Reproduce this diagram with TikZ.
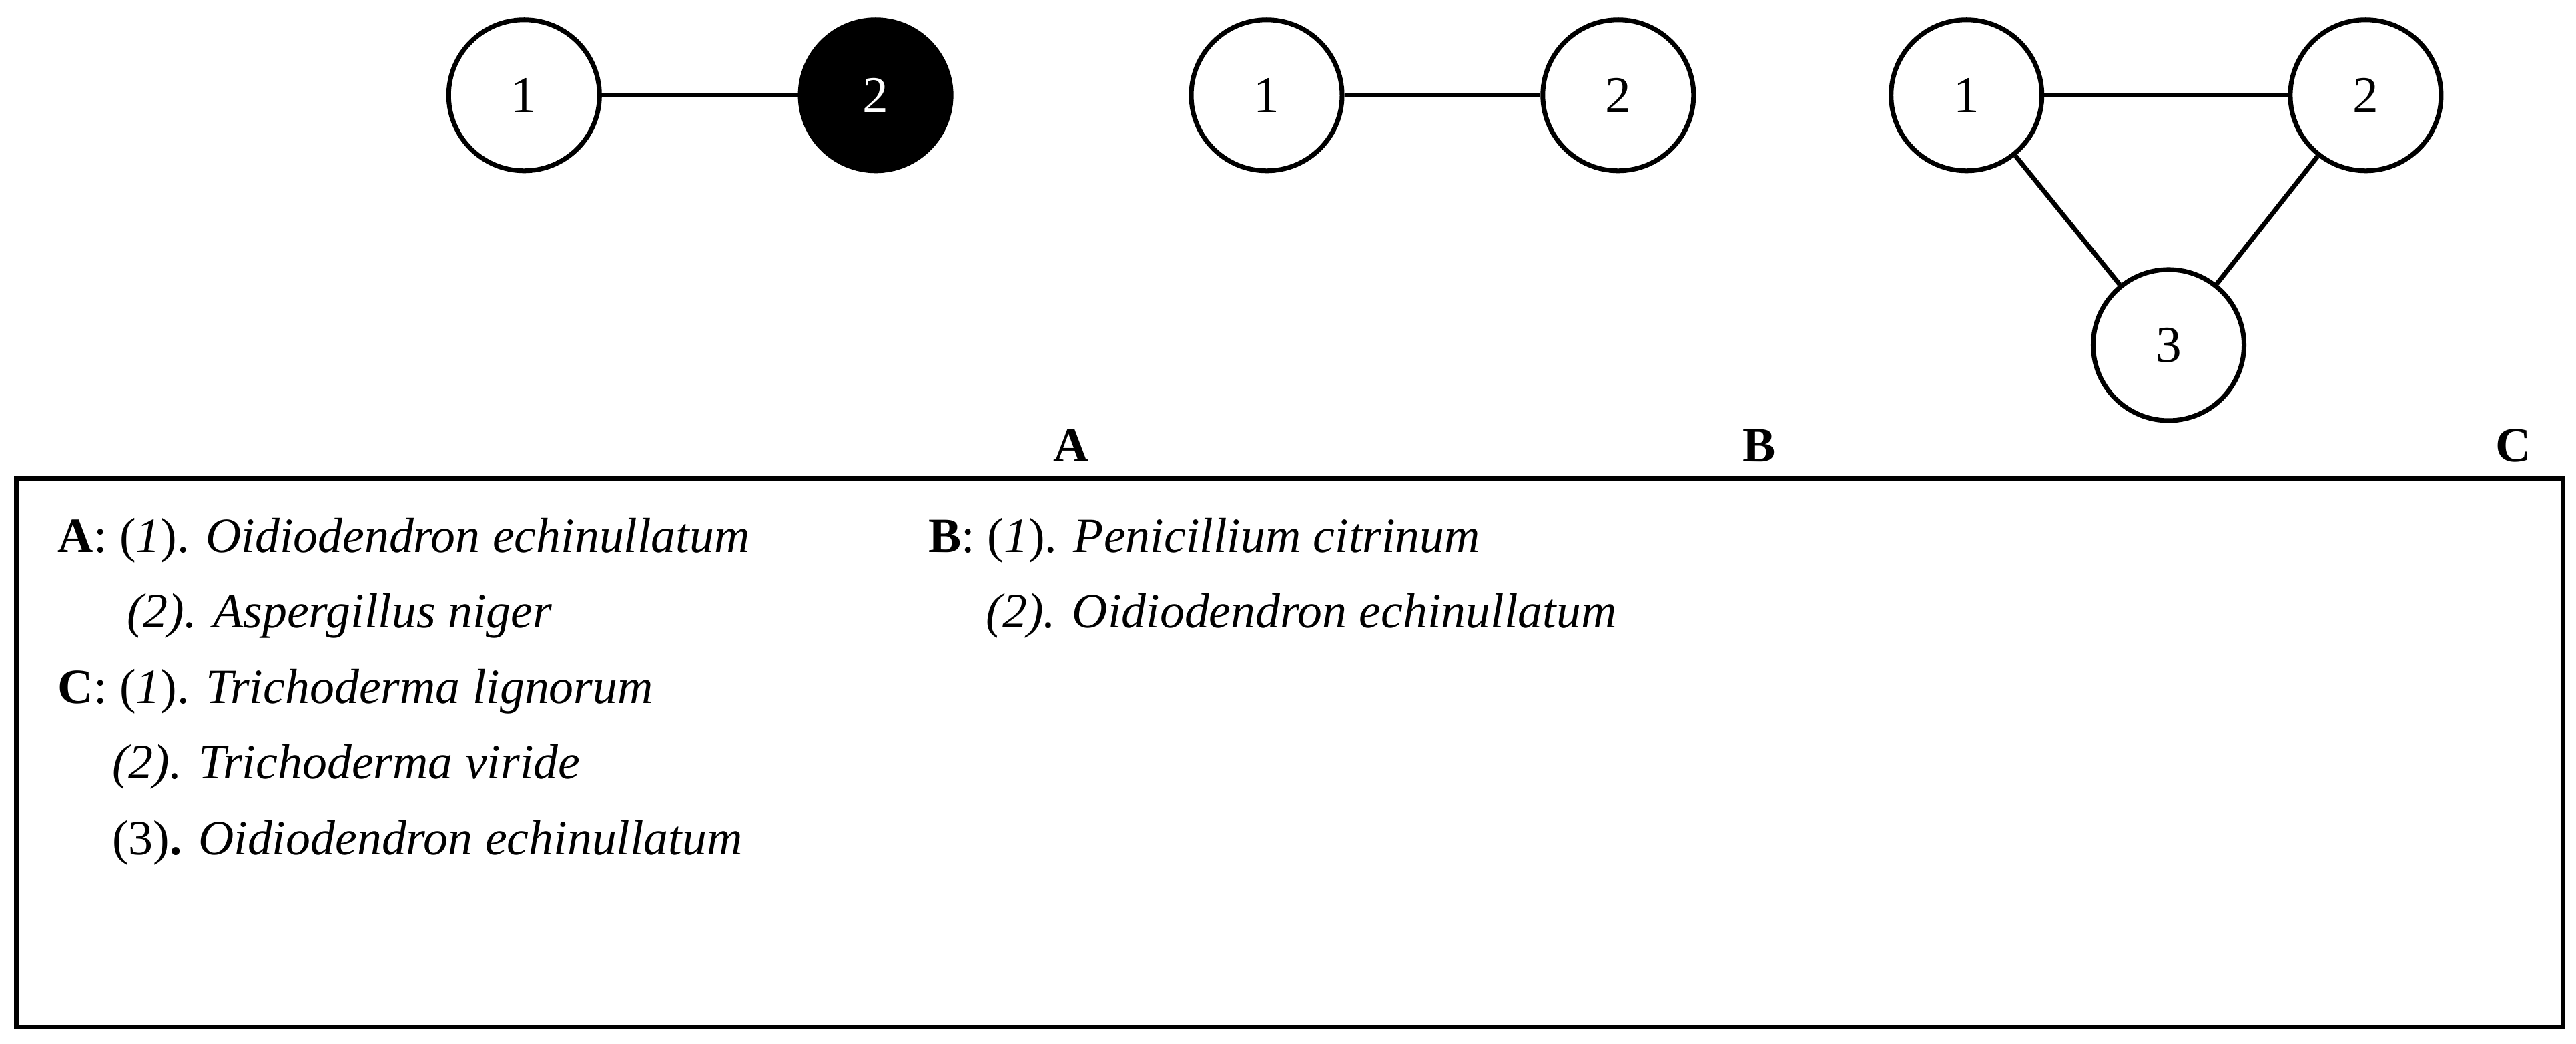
\documentclass[tikz,border=0pt]{standalone}
\usepackage{fontspec}
\setmainfont{Liberation Serif}
\begin{document}
\begin{tikzpicture}[x=0.02462cm,y=-0.02462cm,
  vtx/.style={circle,draw,line width=2pt,minimum size=2.26cm,inner sep=0pt,font=\fontsize{22}{26}\selectfont},
  edge/.style={line width=2pt},
  txt/.style={anchor=base west,inner sep=0pt,font=\fontsize{21}{25}\selectfont},
  lbl/.style={anchor=base,inner sep=0pt,font=\fontsize{21}{25}\selectfont\bfseries}]
\useasboundingbox (0,0) rectangle (1568,635);
\node[vtx] (a1) at (319,58) {1};
\node[vtx,fill=black,text=white] (a2) at (533,58) {2};
\node[vtx] (b1) at (771,58) {1};
\node[vtx] (b2) at (985,58) {2};
\node[vtx] (c1) at (1197,58) {1};
\node[vtx] (c2) at (1440,58) {2};
\node[vtx] (c3) at (1320,210) {3};
\draw[edge] (a1) -- (a2);
\draw[edge] (b1) -- (b2);
\draw[edge] (c1) -- (c2);
\draw[edge] (c1) -- (c3);
\draw[edge] (c2) -- (c3);
\node[lbl] (la) at (652,281) {A};
\node[lbl] (lb) at (1071,281) {B};
\node[lbl] (lc) at (1530,281) {C};
\draw[line width=2pt] (10,291) rectangle (1560,625);
\node[txt] (t1) at (35,336) {\textbf{A}: (\textit{1}). \textit{Oidiodendron echinullatum}};
\node[txt] (t2) at (77,382) {\textit{(2). Aspergillus niger}};
\node[txt] (t3) at (35,428) {\textbf{C}: (\textit{1}). \textit{Trichoderma lignorum}};
\node[txt] (t4) at (68,474) {\textit{(2). Trichoderma viride}};
\node[txt] (t5) at (68,520) {(3)\textbf{.} \textit{Oidiodendron echinullatum}};
\node[txt] (t6) at (565,336) {\textbf{B}: (\textit{1}). \textit{Penicillium citrinum}};
\node[txt] (t7) at (600,382) {\textit{(2). Oidiodendron echinullatum}};
\end{tikzpicture}
\end{document}
